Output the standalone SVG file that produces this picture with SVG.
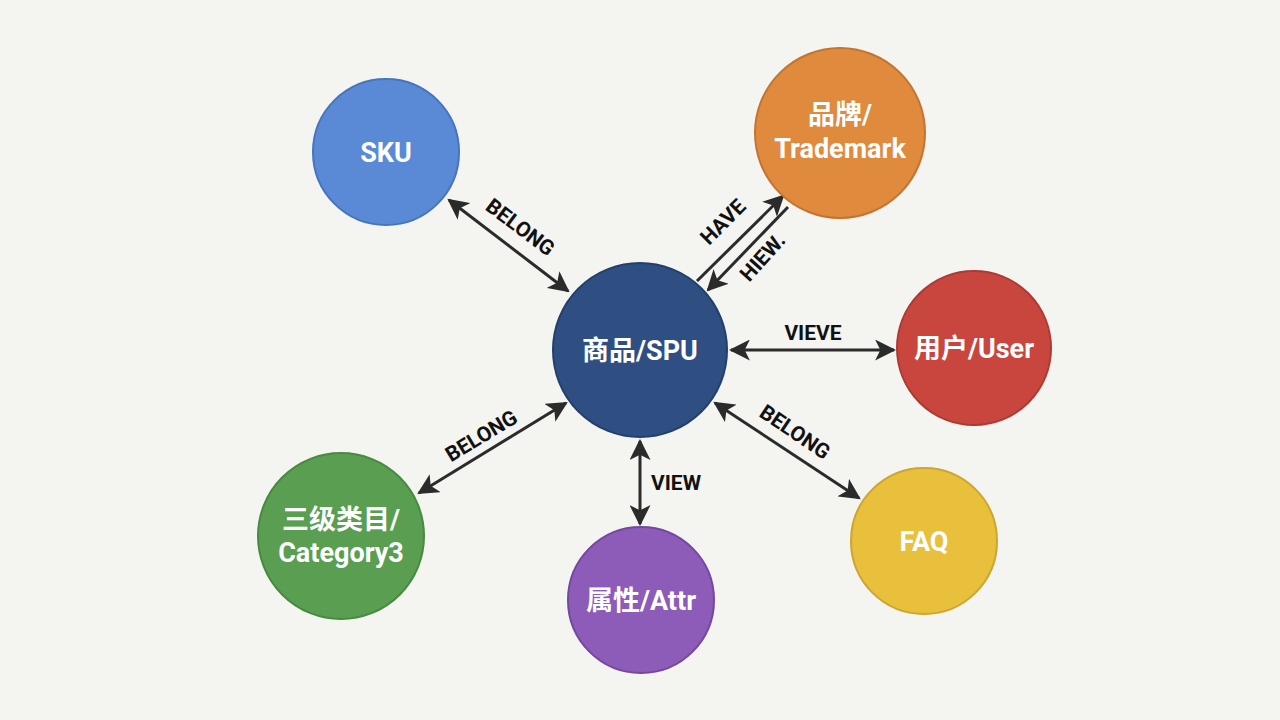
<svg xmlns="http://www.w3.org/2000/svg" width="1280" height="720" viewBox="0 0 1280 720">
<defs>
<marker id="ah" viewBox="0 0 10 10" refX="9" refY="5" markerWidth="7" markerHeight="7" orient="auto-start-reverse" markerUnits="strokeWidth">
<path d="M0,0 L10,5 L0,10 L2.5,5 Z" fill="#2b2b2b"/>
</marker>
<style>
.bg{fill:#f4f4f1}
.node circle{stroke-width:2}
.nt{font-family:Roboto,"Noto Sans CJK SC",sans-serif;font-weight:700;font-size:27px;fill:#ffffff;text-anchor:middle}
.edge{stroke:#2b2b2b;stroke-width:3;fill:none}
.lbl{font-family:Roboto,"Liberation Sans",sans-serif;font-weight:700;font-size:21px;fill:#111;text-anchor:middle}
</style>
</defs>
<rect class="bg" width="1280" height="720"/>
<g id="connectors">
<line class="edge" x1="449" y1="200" x2="568" y2="291" marker-start="url(#ah)" marker-end="url(#ah)"/>
<line class="edge" x1="697" y1="281" x2="783" y2="196" marker-end="url(#ah)"/>
<line class="edge" x1="788" y1="207" x2="708" y2="290" marker-end="url(#ah)"/>
<line class="edge" x1="731" y1="350" x2="894" y2="350" marker-start="url(#ah)" marker-end="url(#ah)"/>
<line class="edge" x1="419" y1="493" x2="566" y2="403" marker-start="url(#ah)" marker-end="url(#ah)"/>
<line class="edge" x1="640" y1="441" x2="640" y2="524" marker-start="url(#ah)" marker-end="url(#ah)"/>
<line class="edge" x1="715" y1="403" x2="859" y2="498" marker-start="url(#ah)" marker-end="url(#ah)"/>
<text class="lbl" transform="translate(516,233) rotate(37)">BELONG</text>
<text class="lbl" transform="translate(728,227) rotate(-45)">HAVE</text>
<text class="lbl" transform="translate(768,262) rotate(-48)">HIEW.</text>
<text class="lbl" x="813" y="340">VIEVE</text>
<text class="lbl" transform="translate(485,442) rotate(-31)">BELONG</text>
<text class="lbl" x="676" y="490">VIEW</text>
<text class="lbl" transform="translate(791,438) rotate(34)">BELONG</text>
</g>
<g id="sku" class="node"><circle cx="386" cy="152" r="73" fill="#5a8ad6" stroke="#4674bd"/><text class="nt" x="386" y="162">SKU</text></g>
<g id="trademark" class="node"><circle cx="840" cy="133" r="85" fill="#e08a3e" stroke="#c47330"/><text class="nt" x="840" y="124">品牌/</text><text class="nt" x="840" y="158">Trademark</text></g>
<g id="spu" class="node"><circle cx="640" cy="350" r="87" fill="#2f4f82" stroke="#23406d"/><text class="nt" x="640" y="360">商品/SPU</text></g>
<g id="user" class="node"><circle cx="974" cy="348" r="77" fill="#c8463d" stroke="#ad3932"/><text class="nt" x="974" y="358">用户/User</text></g>
<g id="faq" class="node"><circle cx="924" cy="541" r="73" fill="#e8c03c" stroke="#cda530"/><text class="nt" x="924" y="551">FAQ</text></g>
<g id="attr" class="node"><circle cx="641" cy="600" r="73" fill="#8d5bb8" stroke="#7548a0"/><text class="nt" x="641" y="610">属性/Attr</text></g>
<g id="category3" class="node"><circle cx="341" cy="536" r="83" fill="#5a9e52" stroke="#478a40"/><text class="nt" x="341" y="529">三级类目/</text><text class="nt" x="341" y="562">Category3</text></g>
</svg>
